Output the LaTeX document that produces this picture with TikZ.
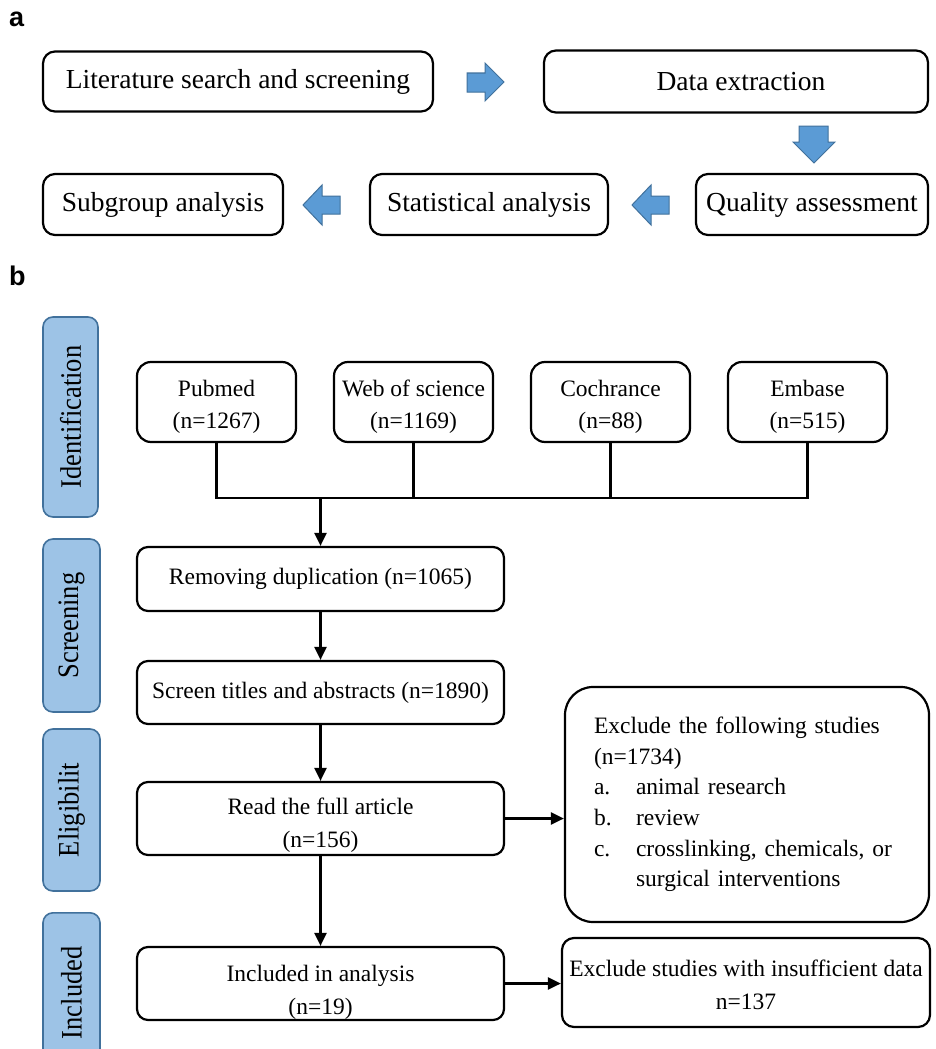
\documentclass[tikz,border=0pt]{standalone}
\usepackage{fontspec}
\setmainfont{Liberation Serif}
\newfontfamily\panelfont{Liberation Sans}
\usetikzlibrary{arrows.meta}
\definecolor{arrfill}{HTML}{5B9BD5}
\definecolor{arredge}{HTML}{41719C}
\definecolor{sidefill}{HTML}{9DC3E6}
\definecolor{sideedge}{HTML}{41719C}
\newcommand{\lowtext}[2]{\raisebox{-#1}[\height][\depth]{\begin{tabular}{@{}c@{}}#2\end{tabular}}}
\begin{document}
\begin{tikzpicture}[x=1pt,y=-1pt,
  abox/.style={draw, line width=2.2pt, rounded corners=12pt, inner sep=0pt, align=center,
    font=\fontsize{27.5}{32}\selectfont},
  bbox/.style={draw, line width=2.2pt, rounded corners=11pt, inner sep=0pt, align=center,
    font=\fontsize{23.5}{32.5}\selectfont},
  sidebox/.style={draw=sideedge, fill=sidefill, line width=1.6pt, rounded corners=10pt,
    inner sep=0pt, rotate=90, font=\fontsize{26.5}{30}\selectfont},
  blockarrow/.style={fill=arrfill, draw=arredge, line width=1pt},
  conn/.style={line width=2.3pt},
  arr/.style={line width=2.3pt, -{Triangle[length=13pt,width=12pt]}},
  panel/.style={font=\panelfont\bfseries\fontsize{27}{30}\selectfont, anchor=base west, inner sep=0pt}
]
\clip (0,0) rectangle (936,1049);
\fill[white] (0,0) rectangle (936,1049);

% ---------------- panel a ----------------
\node[panel] (la) at (9,27) {a};
\node[abox, minimum width=390, minimum height=60] (lit) at (238,81.5) {Literature search and screening};
\node[abox, minimum width=384, minimum height=62] (data) at (736,81.5) {\hspace*{10pt}Data extraction};
\node[abox, minimum width=232, minimum height=61] (qual) at (812,204.5) {Quality assessment};
\node[abox, minimum width=238, minimum height=61] (stat) at (489,204.5) {Statistical analysis};
\node[abox, minimum width=240, minimum height=61] (sub) at (163,204.5) {Subgroup analysis};

\draw[blockarrow] (467,73) -- (485,73) -- (485,63) -- (504,82) -- (485,101) -- (485,92) -- (467,92) -- cycle;
\draw[blockarrow] (799,126) -- (828,126) -- (828,142) -- (835,142) -- (814,163) -- (793,142) -- (799,142) -- cycle;
\draw[blockarrow] (669,196) -- (651,196) -- (651,185) -- (632,205) -- (651,225) -- (651,214) -- (669,214) -- cycle;
\draw[blockarrow] (340,196) -- (322,196) -- (322,185) -- (303,205) -- (322,225) -- (322,214) -- (340,214) -- cycle;

% ---------------- panel b ----------------
\node[panel] (lb) at (9,285) {b};

\node[sidebox, minimum width=200, minimum height=55] (sid) at (70.5,417) {\scalebox{1}[1.12]{Identification}};
\node[sidebox, minimum width=173, minimum height=57] (sscr) at (71.5,625.5) {\scalebox{1}[1.12]{Screening}};
\node[sidebox, minimum width=162, minimum height=57] (selig) at (71.5,810) {\scalebox{1}[1.12]{Eligibilit}};
\node[sidebox, minimum width=160, minimum height=57, anchor=east] (sincl) at (71.5,912) {\scalebox{1}[1.12]{Included}};

\node[bbox, rounded corners=14pt, minimum width=159, minimum height=80] (pub) at (216.5,402) {\lowtext{4pt}{Pubmed\\(n=1267)}};
\node[bbox, rounded corners=14pt, minimum width=159, minimum height=80] (wos) at (413.5,402) {\lowtext{4pt}{Web of science\\(n=1169)}};
\node[bbox, rounded corners=14pt, minimum width=159, minimum height=80] (coch) at (610.5,402) {\lowtext{4pt}{Cochrance\\(n=88)}};
\node[bbox, rounded corners=14pt, minimum width=159, minimum height=80] (emb) at (807.5,402) {\lowtext{4pt}{Embase\\(n=515)}};

\node[bbox, minimum width=367, minimum height=64] (rem) at (320.5,579) {Removing duplication (n=1065)};
\node[bbox, minimum width=367, minimum height=63] (scr) at (320.5,692.5) {Screen titles and abstracts (n=1890)};
\node[bbox, minimum width=367, minimum height=73] (read) at (320.5,818.5) {\lowtext{6pt}{Read the full article\\(n=156)}};
\node[bbox, minimum width=367, minimum height=73] (inc) at (320.5,983.5) {\lowtext{8pt}{Included in analysis\\(n=19)}};

\node[bbox, rounded corners=28pt, minimum width=364, minimum height=235, align=left,
  text width=306, inner xsep=29pt, font=\fontsize{23.5}{30.6}\selectfont] (excl) at (747,804.5)
  {Exclude the following studies\\
   (n=1734)\\
   \makebox[42pt][l]{a.}animal research\\
   \makebox[42pt][l]{b.}review\\
   \makebox[42pt][l]{c.}crosslinking, chemicals, or\\
   \hspace*{42pt}surgical interventions};
\node[bbox, rounded corners=12pt, minimum width=368, minimum height=89] (ins) at (746,982.5)
  {\lowtext{4pt}{Exclude studies with insufficient data\\n=137}};

% connectors
\path (rem.north) ++(0,-48) coordinate (j);
\draw[conn] (pub.south) -- (pub.south |- j) -- (emb.south |- j) -- (emb.south);
\draw[conn] (wos.south) -- (wos.south |- j);
\draw[conn] (coch.south) -- (coch.south |- j);
\draw[arr] (j) -- (rem.north);
\draw[arr] (rem.south) -- (scr.north);
\draw[arr] (scr.south) -- (read.north);
\draw[arr] (read.south) -- (inc.north);
\draw[arr] (read.east) -- (read.east -| excl.west);
\draw[arr] (inc.east) -- (inc.east -| ins.west);
\end{tikzpicture}
\end{document}
